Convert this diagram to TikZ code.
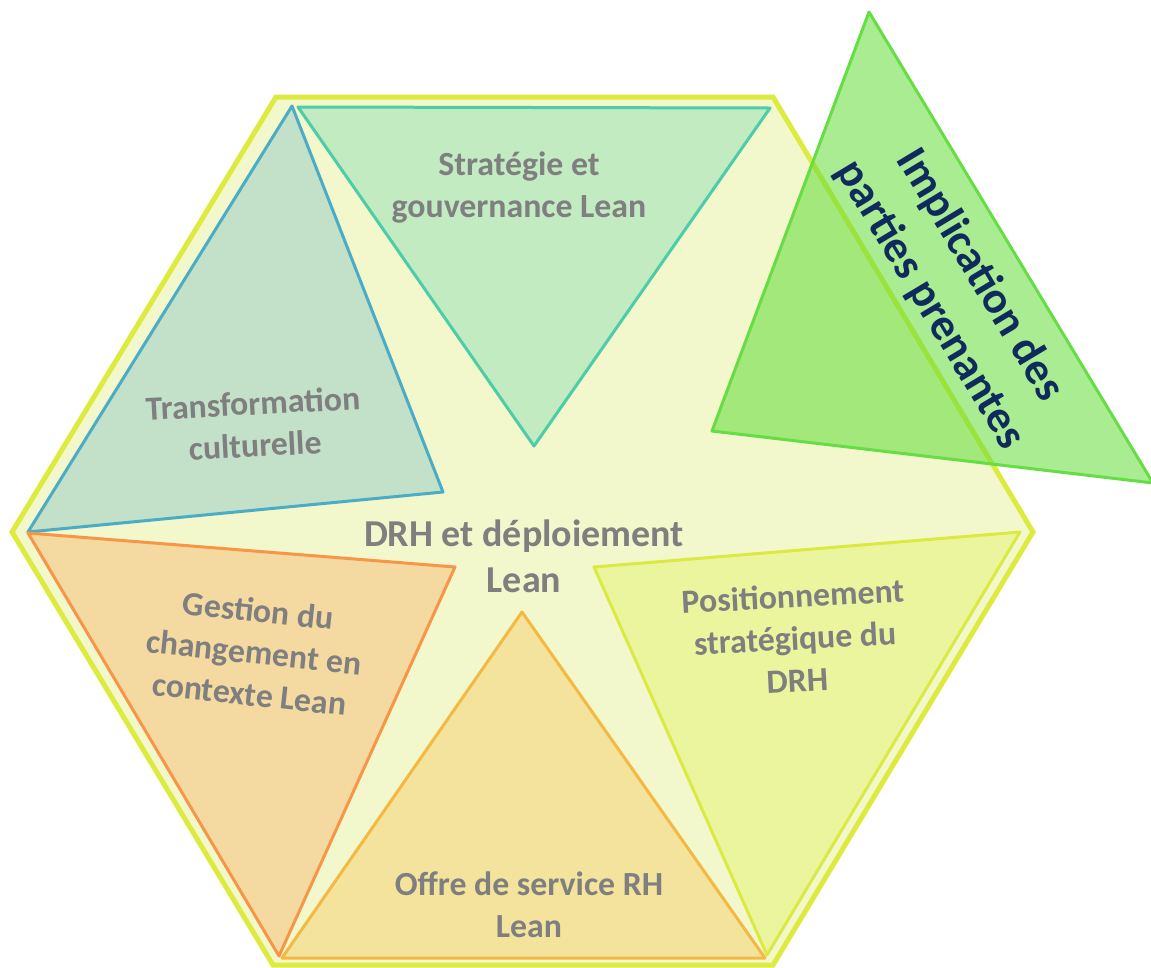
\documentclass[tikz,border=0pt]{standalone}
\usepackage{fontspec}
\setmainfont{Carlito}
\definecolor{hexfill}{HTML}{F3F7CC}
\definecolor{hexline}{HTML}{DDEB3F}
\definecolor{trfill}{HTML}{C3E0C8}
\definecolor{trline}{HTML}{4BACC6}
\definecolor{stfill}{HTML}{C2EBC1}
\definecolor{stline}{HTML}{4CCDA8}
\definecolor{pofill}{HTML}{EBF59E}
\definecolor{poline}{HTML}{DAEA40}
\definecolor{offill}{HTML}{F3E39C}
\definecolor{ofline}{HTML}{F4B942}
\definecolor{gefill}{HTML}{F4D9A0}
\definecolor{geline}{HTML}{F79646}
\definecolor{imfill}{HTML}{66DD3B}
\definecolor{imline}{HTML}{66DD44}
\definecolor{txtgray}{HTML}{7F7F7F}
\definecolor{navy}{HTML}{0F2B5E}
\tikzset{
  tri/.style={line width=3pt, line join=round},
  lbl/.style={text=txtgray, align=center, font=\bfseries\fontsize{33.8}{42}\selectfont, inner sep=0pt},
  centerlbl/.style={text=txtgray, align=center, font=\bfseries\fontsize{38}{46}\selectfont, inner sep=0pt},
  implbl/.style={text=navy, align=center, font=\bfseries\fontsize{45}{58}\selectfont, inner sep=0pt}
}
\begin{document}
\begin{tikzpicture}[x=1pt,y=-1pt]
\useasboundingbox (0,0) rectangle (1151,967);
% hexagon
\draw[fill=hexfill, draw=hexline, line width=5pt, line join=miter]
  (276,97) -- (773,97) -- (1033,532) -- (773,965) -- (273,965) -- (12,532) -- cycle;
% Transformation culturelle
\draw[tri, fill=trfill, draw=trline] (292,106) -- (443,492) -- (28,532) -- cycle;
% Strategie
\draw[tri, fill=stfill, draw=stline] (298,107) -- (770,108) -- (534,446) -- cycle;
% Gestion du changement
\draw[tri, fill=gefill, draw=geline] (28,533) -- (455,567) -- (279,956) -- cycle;
% Offre de service
\draw[tri, fill=offill, draw=ofline] (522,612) -- (765,958) -- (282,958) -- cycle;
% Positionnement
\draw[tri, fill=pofill, draw=poline] (594,567) -- (1020,532) -- (767,955) -- cycle;
% Implication
\draw[tri, fill=imfill, fill opacity=0.56, draw=imline] (869,12) -- (1153,483) -- (712,431) -- cycle;

\node[lbl] (strat) at (519,187) {Stratégie et\\gouvernance Lean};
\node[lbl, rotate=3] (transf) at (254,424) {Transformation\\culturelle};
\node[lbl, rotate=-6] (gest) at (254,652) {Gestion du\\changement en\\contexte Lean};
\node[lbl, rotate=3] (posit) at (795,638) {Positionnement\\stratégique du\\DRH};
\node[lbl] (offre) at (529,905) {Offre de service RH\\Lean};
\node[centerlbl] (drh) at (524,556) {DRH et déploiement\\Lean};
\node[implbl, rotate=-59] (impl) at (955,290) {Implication des\\parties prenantes};
\end{tikzpicture}
\end{document}
